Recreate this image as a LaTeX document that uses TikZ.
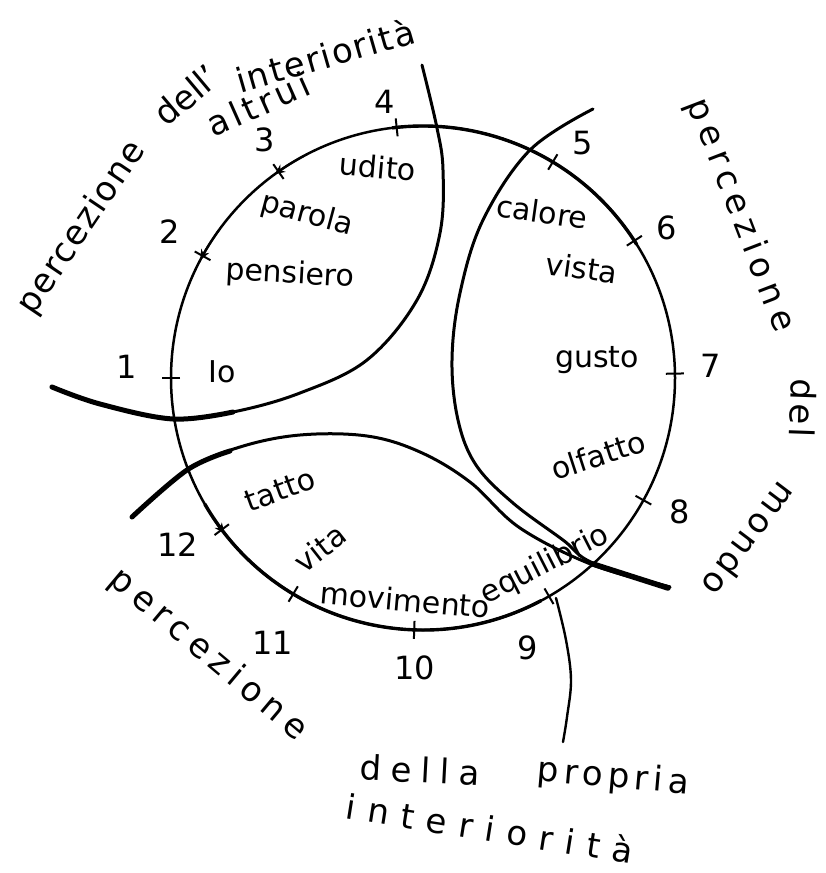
\documentclass[tikz,border=0pt]{standalone}
\usepackage{fontspec}
\setmainfont{DejaVu Sans}
\usetikzlibrary{arrows.meta, calc}

\begin{document}
\begin{tikzpicture}[x=1pt, y=-1pt,
  ring/.style={line width=2.5pt, black},
  zone/.style={line width=3pt, black, line cap=round},
  heavy/.style={line width=5.5pt, black, line cap=round},
  tickmark/.style={line width=2pt, black},
  num/.style={font=\fontsize{32}{32}\selectfont, inner sep=0pt},
  sense/.style={font=\fontsize{30}{30}\selectfont, inner sep=0pt},
  caption/.style={font=\fontsize{34}{34}\selectfont\addfontfeature{LetterSpace=#1}, inner sep=0pt},
  caption/.default=0,
]
\useasboundingbox (0,0) rectangle (825,873);

% === Circle of the twelve senses ===
\coordinate (c) at (423,378);
\draw[ring] (c) circle[radius=252pt];
\draw[ring, line width=3.4pt] ($(c)+(97:252pt)$) arc[start angle=97, end angle=32, radius=252pt];
\draw[ring, line width=3.4pt] ($(c)+(-150:252pt)$) arc[start angle=-150, end angle=-62, radius=252pt];

% ticks and small arrows on the circle
\foreach \ang in {180,151,125,96,59,33,1,-29,-60,-92,-121,-143}
  \draw[tickmark] ($(c)+(\ang:243pt)$) -- ($(c)+(\ang:261pt)$);
\foreach \ang in {151,125,-143}
  \draw[tickmark, -{Stealth[length=10pt,width=9pt]}]
    ($(c)+(\ang-7:252pt)$) arc[start angle=\ang-7, end angle=\ang+1, radius=252pt];

% numbers
\foreach \px/\py/\n in {127/367/1, 170/232/2, 265/140/3, 385/102/4, 583/143/5, 667/228/6,
                        711/366/7, 680/512/8, 528/648/9, 415/668/10, 273/643/11, 178/545/12}
  \node[num] (n\n) at (\px,\py) {\n};

% === Zone boundaries ===
% perception of the others
\draw[zone] plot[smooth, tension=0.6] coordinates {(422,65) (437,128) (443,170) (440,233) (417,300)
  (367,360) (300,393) (233,412) (173,419) (100,404) (52,387)};
\draw[zone, line width=5pt] plot[smooth, tension=0.6] coordinates {(52,387) (100,404) (173,419) (233,412)};
% perception of the world
\draw[zone] plot[smooth, tension=0.6] coordinates {(593,109) (530,150) (483,220) (460,293) (452,360)
  (458,420) (476,465) (513,503) (563,540) (593,563) (670,587)};
% perception of the own interiority
\draw[zone] plot[smooth, tension=0.6] coordinates {(132,517) (187,470) (240,447) (300,435) (367,436)
  (420,452) (470,482) (520,528) (593,565) (670,587)};
\draw[zone, line width=5pt] plot[smooth, tension=0.6] coordinates {(132,517) (187,470) (230,451)};
\draw[heavy] (593,564) -- (668,588);
\draw[zone, line width=2.4pt] plot[smooth, tension=0.6] coordinates {(556,598) (566,640) (571,680)
  (567,717) (563,742)};

% === Senses ===
\node[sense] (io) at (222,372) {Io};
\node[sense, rotate=-3] (pensiero) at (290,275) {pensiero};
\node[sense, rotate=-15] (parola) at (307,215) {parola};
\node[sense, rotate=-5] (udito) at (378,167) {udito};
\node[sense, rotate=-8] (calore) at (542,212) {calore};
\node[sense, rotate=-8] (vista) at (582,268) {vista};
\node[sense] (gusto) at (597,360) {gusto};
\node[sense, rotate=18] (olfatto) at (598,455) {olfatto};
\node[sense, rotate=27] (equilibrio) at (545,565) {equilibrio};
\node[sense, rotate=-5] (movimento) at (405,600) {movimento};
\node[sense, rotate=38] (vita) at (320,548) {vita};
\node[sense, rotate=20] (tatto) at (280,490) {tatto};

% === Captions ===
\node[caption=5, rotate=56] (percA) at (82,228) {percezione};
\node[caption, rotate=40] (dellA) at (186,95) {dell'};
\node[caption=5, rotate=16] (interA) at (325,55) {interiorità};
\node[caption=12, rotate=24] (altruiA) at (258,104) {altrui};

\node[caption=20, rotate=-69] (percB) at (740,215) {percezione};
\node[caption=10, rotate=-92] (delB) at (803,408) {del};
\node[caption=10, rotate=-127] (mondoB) at (750,540) {mondo};

\node[caption=20, rotate=-40] (percC) at (208,655) {percezione};
\node[caption=28, rotate=-3] (dellaC) at (420,770) {della};
\node[caption=15, rotate=-5] (propriaC) at (613,778) {propria};
\node[caption=36, rotate=-9] (interC) at (490,828) {interiorità};
\end{tikzpicture}
\end{document}
